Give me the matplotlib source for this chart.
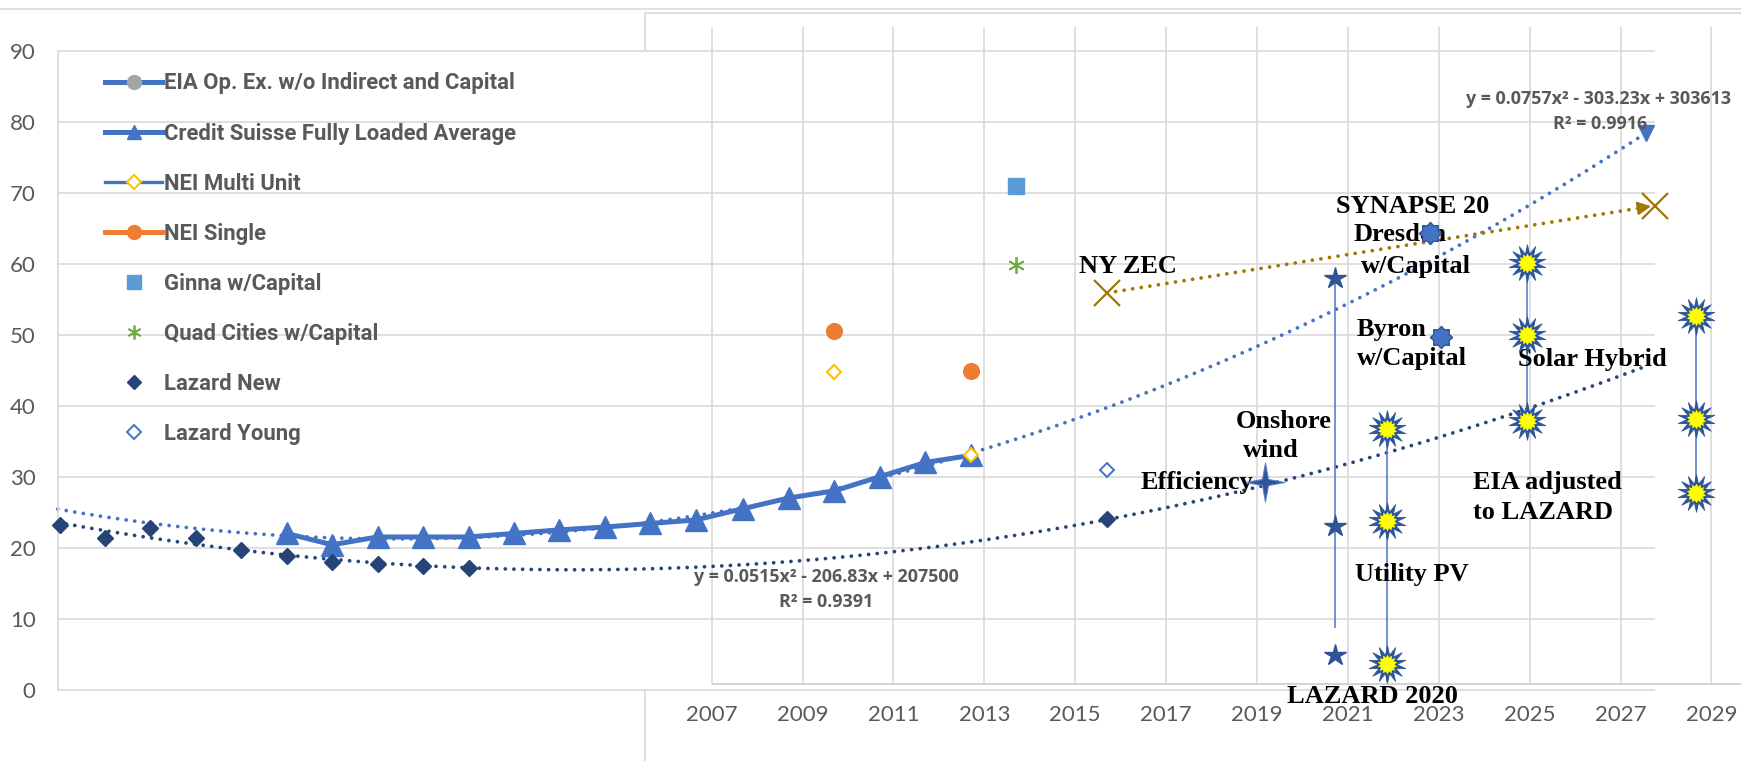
import numpy as np
import matplotlib
matplotlib.use("Agg")
import matplotlib.pyplot as plt
from matplotlib.lines import Line2D
from matplotlib.path import Path

# ---------------- data ----------------
lazard_new_x = [1992.65, 1993.65, 1994.65, 1995.65, 1996.65, 1997.65, 1998.65,
                1999.65, 2000.65, 2001.65, 2015.7]
lazard_new_y = [23.2, 21.3, 22.7, 21.3, 19.6, 18.8, 18.0, 17.7, 17.4, 17.1, 24.0]

cs_x = [1997.65, 1998.65, 1999.65, 2000.65, 2001.65, 2002.65, 2003.65, 2004.65,
        2005.65, 2006.65, 2007.7, 2008.7, 2009.7, 2010.7, 2011.7, 2012.7]
cs_y = [22.0, 20.4, 21.5, 21.5, 21.5, 22.0, 22.5, 22.9, 23.4, 23.9, 25.5, 27.0,
        28.0, 30.0, 32.0, 33.0]

nei_multi_x = [2009.7, 2012.7]
nei_multi_y = [44.7, 33.1]
nei_single_x = [2009.7, 2012.7]
nei_single_y = [50.5, 44.9]
ginna_x, ginna_y = [2013.7], [71.0]
quad_x, quad_y = [2013.7], [59.9]
lazard_young_x, lazard_young_y = [2015.7], [30.9]

ny_zec_x = [2015.7, 2027.75]
ny_zec_y = [55.9, 68.2]

efficiency_x, efficiency_y = [2019.18], [29.2]
onshore_x = 2020.72
onshore_y = [58.0, 23.0, 4.9]
onshore_range = [58.0, 8.7]
utility_x = 2021.85
utility_y = [36.7, 23.7, 3.6]
utility_range = [36.7, 1.0]
solar_x = 2024.95
solar_y = [60.1, 50.0, 37.8]
eia_adj_x = 2028.65
eia_adj_y = [52.6, 38.1, 27.7]
synapse_x, synapse_y = [2022.8], [64.3]
byron_x, byron_y = [2023.05], [49.7]

trend_start, trend_end = 1992.61, 2027.55
x_ticks = list(range(2007, 2030, 2))
y_ticks = list(range(0, 91, 10))

legend_labels = ["EIA Op. Ex. w/o Indirect and Capital", "Credit Suisse Fully Loaded Average",
                 "NEI Multi Unit", "NEI Single", "Ginna w/Capital", "Quad Cities w/Capital",
                 "Lazard New", "Lazard Young"]

# ---------------- colours ----------------
BLUE = "#4472C4"
NAVY = "#264478"
DKBLUE = "#2F5597"
GOLD = "#FFC000"
ORANGE = "#ED7D31"
SQ = "#5B9BD5"
GREEN = "#70AD47"
BROWN = "#A07800"
GRID = "#D9D9D9"
TXT = "#595959"

W, H = 1741, 761
fig = plt.figure(figsize=(W / 100, H / 100), dpi=100)
ax = fig.add_axes([57.7 / W, (H - 689.5) / H, (W - 57.7) / W, (689.5 - 51) / H])
ax.set_xlim(1992.61, 2029.65)
ax.set_ylim(0, 90)
for s in ["top", "right", "bottom"]:
    ax.spines[s].set_visible(False)
ax.spines["left"].set_color(GRID)
ax.spines["left"].set_linewidth(1.2)

# structure: frames of the two overlapped charts
def fig_line(xs, ys):
    fig.add_artist(Line2D([x / W for x in xs], [1 - y / H for y in ys],
                          transform=fig.transFigure, color=GRID, lw=1.2, zorder=0))
fig_line([0, W], [9.3, 9.3])
fig_line([645, W], [13.3, 13.3])
fig_line([645, 645], [13.3, H])

# gridlines
ax.hlines(y_ticks, 1992.61, 2027.75, color=GRID, lw=1.2, zorder=0.5, clip_on=False)
ax.vlines(x_ticks, 0.78, 93.4, color=GRID, lw=1.2, zorder=0.5, clip_on=False)
ax.hlines([0.78], 2007, 2029.65, color="#CFCFCF", lw=1.3, zorder=0.6, clip_on=False)

# ticks
ax.set_yticks(y_ticks)
ax.set_xticks(x_ticks)
ax.tick_params(axis="y", length=0, pad=16, labelsize=16, labelcolor=TXT)
ax.tick_params(axis="x", length=0, pad=11, labelsize=16, labelcolor=TXT)
for lab in ax.get_xticklabels() + ax.get_yticklabels():
    lab.set_fontfamily("Lato")

dots = dict(linestyle=(0, (0.01, 2.3)), dash_capstyle="round", lw=2.7)

# trendlines (quadratic fits of the series)
xs = np.linspace(trend_start, trend_end, 300)
cs_fit = np.poly1d(np.polyfit(cs_x, cs_y, 2))
lz_fit = np.poly1d(np.polyfit(lazard_new_x, lazard_new_y, 2))
ax.plot(xs, cs_fit(xs), color=BLUE, zorder=2, clip_on=False, **dots)
ax.plot(xs, lz_fit(xs), color=NAVY, zorder=2, clip_on=False, **dots)
ax.plot([trend_end], [cs_fit(trend_end)], marker="v", ms=11, color=BLUE, zorder=2.5, clip_on=False)

# NY ZEC line with arrow
zec_fit = np.poly1d(np.polyfit(ny_zec_x, ny_zec_y, 1))
arrow_tip = ny_zec_x[1] - 0.08
arrow_base = arrow_tip - 0.32
ax.plot([ny_zec_x[0], arrow_base], [zec_fit(ny_zec_x[0]), zec_fit(arrow_base)], color=BROWN,
        zorder=2, **dots)
ax.annotate("", xy=(arrow_tip, zec_fit(arrow_tip)), xytext=(arrow_base, zec_fit(arrow_base)),
            arrowprops=dict(arrowstyle="-|>", color=BROWN, lw=1.5, mutation_scale=20,
                            shrinkA=0, shrinkB=0), zorder=2.5)

# series
ax.plot(cs_x, cs_y, color=BLUE, lw=3.6, marker="^", ms=15.5, zorder=3, clip_on=False)
ax.plot(lazard_new_x, lazard_new_y, ls="none", marker="D", ms=8.3, color=NAVY, zorder=4, clip_on=False)
ax.plot(nei_multi_x, nei_multi_y, ls="none", marker="D", ms=7, mfc="white", mec=GOLD, mew=1.5, zorder=4)
ax.plot(nei_single_x, nei_single_y, ls="none", marker="o", ms=11.3, color=ORANGE, zorder=4)
ax.plot(ginna_x, ginna_y, ls="none", marker="s", ms=11, color=SQ, zorder=4)
ax.plot(quad_x, quad_y, ls="none", marker=(6, 2, 0), ms=12, mec=GREEN, mew=1.3, zorder=4)
ax.plot(lazard_young_x, lazard_young_y, ls="none", marker="D", ms=7, mfc="white", mec=BLUE, mew=1.4, zorder=4)
ax.plot(ny_zec_x, ny_zec_y, ls="none", marker="x", ms=18.5, mec=BROWN, mew=1.6, zorder=4, clip_on=False)

star4 = Path.unit_regular_star(4, 0.22)
burst = Path.unit_regular_star(14, 0.5)
burst_in = Path.unit_regular_star(14, 0.72)
seal = Path.unit_regular_star(8, 0.74)

ax.vlines([onshore_x], onshore_range[1], onshore_range[0], color="#5A80CC", lw=1.2, zorder=3)
ax.vlines([utility_x], utility_range[1], utility_range[0], color="#5A80CC", lw=1.2, zorder=3)
ax.vlines([solar_x], min(solar_y), max(solar_y), color="#5A80CC", lw=1.2, zorder=3)
ax.vlines([eia_adj_x], min(eia_adj_y), max(eia_adj_y), color="#5A80CC", lw=1.2, zorder=3, clip_on=False)

ax.plot(efficiency_x, efficiency_y, ls="none", marker=star4, ms=28, mfc=DKBLUE, mec="#5A80CC", mew=0.8, zorder=5)
ax.plot([onshore_x] * 3, onshore_y, ls="none", marker="*", ms=16, mfc=DKBLUE, mec=DKBLUE, zorder=5)
for bx, by in [([utility_x] * 3, utility_y), ([solar_x] * 3, solar_y), ([eia_adj_x] * 3, eia_adj_y)]:
    ax.plot(bx, by, ls="none", marker=burst, ms=27, mfc=DKBLUE, mec=DKBLUE, mew=0.6, zorder=5, clip_on=False)
    ax.plot(bx, by, ls="none", marker=burst_in, ms=13.5, mfc="#FFFF00", mec="#FFFF00", mew=0.3, zorder=5.1, clip_on=False)
ax.plot(synapse_x + byron_x, synapse_y + byron_y, ls="none", marker=seal, ms=16, mfc=BLUE, mec=DKBLUE, mew=1, zorder=5)

# annotations
lab = dict(family="Liberation Serif", weight="bold", size=19, color="black", zorder=3.5)
ax.text(2016.16, 59.56, "NY ZEC", ha="center", va="center", **lab)
ax.text(2022.43, 68.06, "SYNAPSE 20", ha="center", va="center", **lab)
ax.text(2022.15, 64.07, "Dresden", ha="center", va="center", **lab)
ax.text(2022.50, 59.60, "w/Capital", ha="center", va="center", **lab)
ax.text(2021.97, 50.78, "Byron", ha="center", va="center", **lab)
ax.text(2022.41, 46.69, "w/Capital", ha="center", va="center", **lab)
ax.text(2026.37, 46.55, "Solar Hybrid", ha="center", va="center", **lab)
ax.text(2019.59, 37.75, "Onshore", ha="center", va="center", **lab)
ax.text(2019.31, 33.62, "wind", ha="center", va="center", **lab)
ax.text(2017.68, 29.15, "Efficiency", ha="center", va="center", **lab)
ax.text(2023.75, 29.15, "EIA adjusted", ha="left", va="center", **lab)
ax.text(2023.75, 24.92, "to LAZARD", ha="left", va="center", **lab)
ax.text(2022.40, 16.28, "Utility PV", ha="center", va="center", **lab)
ax.text(2021.55, -1.01, "LAZARD 2020", ha="center", va="center", clip_on=False, **lab)

eq = dict(family="Open Sans", weight="bold", size=12.9, color=TXT, zorder=3.5, ha="center", va="center")
ax.text(2026.52, 83.2, "y = 0.0757x² - 303.23x + 303613", **eq)
ax.text(2026.54, 79.7, "R² = 0.9916", **eq)
ax.text(2009.53, 15.9, "y = 0.0515x² - 206.83x + 207500", **eq)
ax.text(2009.51, 12.38, "R² = 0.9391", **eq)

# legend
handles = [
    Line2D([], [], color=BLUE, lw=3.6, marker="o", ms=10, mfc="#A5A5A5", mec="#A5A5A5"),
    Line2D([], [], color=BLUE, lw=3.6, marker="^", ms=10, mfc=BLUE, mec=BLUE),
    Line2D([], [], color=BLUE, lw=2.4, marker="D", ms=7, mfc="white", mec=GOLD, mew=1.5),
    Line2D([], [], color=ORANGE, lw=3.6, marker="o", ms=10, mfc=ORANGE, mec=ORANGE),
    Line2D([], [], ls="none", marker="s", ms=9.5, color=SQ),
    Line2D([], [], ls="none", marker=(6, 2, 0), ms=10, mec=GREEN, mew=1.3),
    Line2D([], [], ls="none", marker="D", ms=7.5, color=NAVY),
    Line2D([], [], ls="none", marker="D", ms=7, mfc="white", mec=BLUE, mew=1.4),
]
leg = fig.legend(handles, legend_labels, loc="upper left", bbox_to_anchor=(105 / W, 1 - 72.5 / H),
                 frameon=False, borderpad=0, borderaxespad=0, handlelength=2.6,
                 handletextpad=0.08, labelspacing=1.27,
                 prop=dict(family="Roboto", weight="bold", size=15.9))
for t in leg.get_texts():
    t.set_color(TXT)

fig.savefig("out.png", dpi=100)
